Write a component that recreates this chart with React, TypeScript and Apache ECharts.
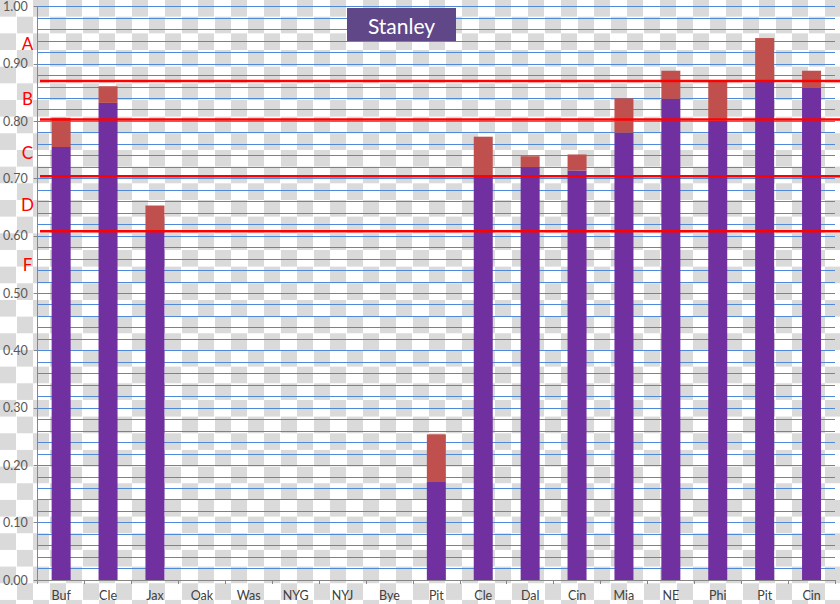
import React, { useEffect, useRef } from 'react';
import * as echarts from 'echarts';

const categories = ['Buf', 'Cle', 'Jax', 'Oak', 'Was', 'NYG', 'NYJ', 'Bye', 'Pit', 'Cle', 'Dal', 'Cin', 'Mia', 'NE', 'Phi', 'Pit', 'Cin'];
const baseScores: (number | null)[] = [0.755, 0.832, 0.607, null, null, null, null, null, 0.172, 0.704, 0.72, 0.714, 0.78, 0.839, 0.801, 0.869, 0.858];
const totalScores: (number | null)[] = [0.806, 0.861, 0.653, null, null, null, null, null, 0.254, 0.773, 0.739, 0.742, 0.84, 0.888, 0.872, 0.945, 0.888];
const gradeCutoffs = [0.87, 0.803, 0.704, 0.608];
const gradeLetters = ['A', 'B', 'C', 'D', 'F'];
const gradeLetterValues = [0.935, 0.84, 0.745, 0.655, 0.55];
const chartTitle = 'Stanley';

const FONT = 'Lato, "Open Sans", sans-serif';

export default function App() {
  const ref = useRef<HTMLDivElement>(null);

  useEffect(() => {
    if (!ref.current) return;
    const chart = echarts.init(ref.current, null, { renderer: 'svg' });
    const bonus = totalScores.map((t, i) => {
      const b = baseScores[i];
      return t == null || b == null ? null : +(t - b).toFixed(3);
    });
    const gridColor = '#4f89d8';
    chart.setOption({
      animation: false,
      backgroundColor: 'transparent',
      grid: { left: 35, right: 5, top: 5.7, bottom: 24, containLabel: false },
      xAxis: {
        type: 'category',
        data: categories,
        axisLine: { show: true, lineStyle: { color: '#868686', width: 1 } },
        axisTick: { show: true, length: 4, lineStyle: { color: '#868686' } },
        axisLabel: { interval: 0, color: '#404040', fontSize: 12.5, margin: 9, fontFamily: FONT },
        splitLine: { show: false },
      },
      yAxis: {
        type: 'value',
        min: 0,
        max: 1,
        interval: 0.1,
        axisLine: { show: true, lineStyle: { color: '#868686', width: 1 } },
        axisTick: { show: true, length: 4, lineStyle: { color: '#868686' } },
        axisLabel: {
          color: '#595959',
          fontSize: 12.5,
          margin: 10,
          fontFamily: FONT,
          formatter: (v: number) => v.toFixed(2),
        },
        splitLine: { show: true, lineStyle: { color: gridColor, width: 1 } },
        minorTick: { show: false, splitNumber: 5 },
        minorSplitLine: { show: true, lineStyle: { color: gridColor, width: 1 } },
      },
      series: [
        {
          name: 'Base',
          type: 'bar',
          stack: 'score',
          barWidth: 19,
          itemStyle: { color: '#7030a0' },
          data: baseScores,
        },
        {
          name: 'Bonus',
          type: 'bar',
          stack: 'score',
          barWidth: 19,
          itemStyle: { color: '#c0504d' },
          data: bonus,
        },
      ],
    });

    const yPix = (v: number) => chart.convertToPixel({ yAxisIndex: 0 }, v) as number;
    const graphics: any[] = [];
    gradeCutoffs.forEach((c) => {
      const y = yPix(c);
      graphics.push({
        type: 'line',
        z: 100,
        silent: true,
        shape: { x1: 40, y1: y, x2: 840, y2: y },
        style: { stroke: '#ff0000', lineWidth: 2.5 },
      });
    });
    gradeLetters.forEach((l, i) => {
      graphics.push({
        type: 'text',
        z: 100,
        silent: true,
        x: 27.5,
        y: yPix(gradeLetterValues[i]),
        style: {
          text: l,
          fill: '#ff0000',
          fontSize: 17,
          fontFamily: FONT,
          align: 'center',
          verticalAlign: 'middle',
        },
      });
    });
    graphics.push({
      type: 'rect',
      z: 100,
      silent: true,
      shape: { x: 347, y: 8, width: 109, height: 33 },
      style: { fill: '#5f4788' },
    });
    graphics.push({
      type: 'text',
      z: 101,
      silent: true,
      x: 401.5,
      y: 25,
      style: {
        text: chartTitle,
        fill: '#ffffff',
        fontSize: 21,
        fontFamily: FONT,
        align: 'center',
        verticalAlign: 'middle',
      },
    });
    chart.setOption({ graphic: graphics });

    return () => chart.dispose();
  }, []);

  return (
    <div
      style={{
        position: 'absolute',
        left: 0,
        top: 0,
        width: 840,
        height: 604,
        backgroundColor: '#ffffff',
        backgroundImage: 'repeating-conic-gradient(#ffffff 0 25%, #dadada 0 50%)',
        backgroundSize: '33px 33.33px',
        backgroundPosition: '0 0',
      }}
    >
      <div ref={ref} style={{ width: 840, height: 604 }} />
    </div>
  );
}
